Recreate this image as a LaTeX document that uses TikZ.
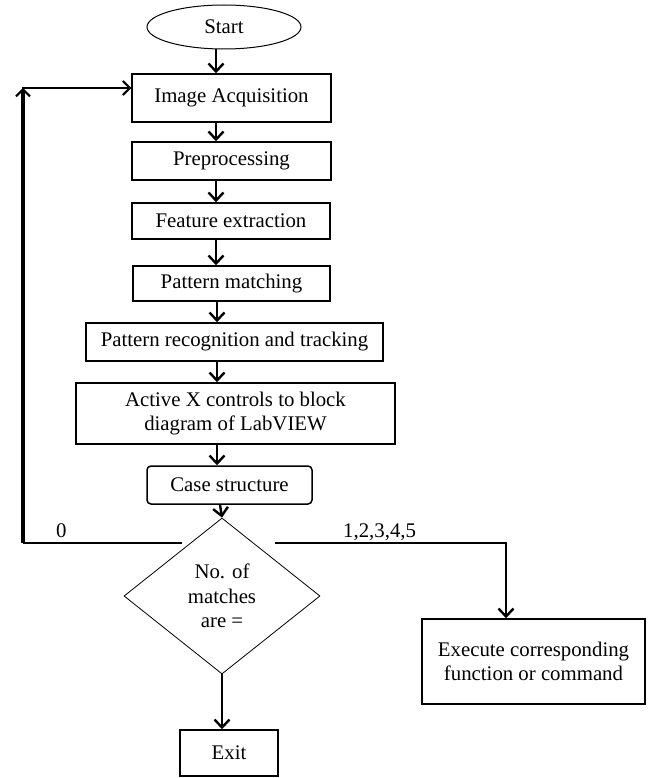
\documentclass[tikz,border=0pt]{standalone}
\usepackage{fontspec}
\setmainfont{Liberation Serif}
\usetikzlibrary{shapes.geometric,arrows.meta,calc}
\begin{document}
\begin{tikzpicture}[x=1pt,y=-1pt,
  font=\fontsize{20.8}{24}\selectfont,
  box/.style={draw,line width=1.5pt,rectangle,inner sep=0pt,align=center},
  flow/.style={line width=2.4pt,-{Straight Barb[length=8pt,width=15pt]}},
  thinline/.style={line width=1.3pt},
  lbl/.style={inner sep=0pt,anchor=base west}]
\useasboundingbox (0,0) rectangle (648,778);
% nodes
\node[draw,line width=1pt,ellipse,minimum width=154pt,minimum height=44pt,inner sep=0pt] (start) at (224,27) {Start};
\node[box,minimum width=199pt,minimum height=48pt] (acq) at (231.5,98) {Image Acquisition};
\node[box,minimum width=199pt,minimum height=38pt] (pre) at (231.5,161) {Preprocessing};
\node[box,minimum width=198pt,minimum height=36pt] (feat) at (231,221) {Feature extraction};
\node[box,minimum width=197pt,minimum height=35pt] (pm) at (231.5,283.5) {Pattern matching};
\node[box,minimum width=297pt,minimum height=38pt] (prt) at (234.5,342) {Pattern recognition and tracking};
\node[box,minimum width=319pt,minimum height=61pt] (actx) at (235.5,413.5) {Active X controls to block\\diagram of LabVIEW};
\node[box,rounded corners=4pt,minimum width=165pt,minimum height=38pt] (case) at (229.5,485) {Case structure};
\node[draw,line width=0.8pt,diamond,minimum width=196pt,minimum height=156pt,inner sep=0pt,align=center,font=\fontsize{20.8}{24.5}\selectfont] (dia) at (222,596) {No. of\\matches\\are =};
\node[box,minimum width=223pt,minimum height=85pt] (exec) at (533.5,661.5) {Execute corresponding\\function or command};
\node[box,minimum width=98pt,minimum height=46pt] (exit) at (229,753) {Exit};
% labels
\node[lbl] (l0) at (56,537) {0};
\node[lbl] (l1) at (343,537) {1,2,3,4,5};
% helper coordinates
\coordinate (ax) at (216,0);
\coordinate (lgap) at (182,543);
\coordinate (rgap) at (275,543);
\coordinate (c1) at (23,543);
\coordinate (c2) at (23,88);
\coordinate (c3) at (506,543);
% main flow
\draw[flow] (start.south -| ax) -- (acq.north -| ax);
\draw[flow] (acq.south -| ax) -- (pre.north -| ax);
\draw[flow] (pre.south -| ax) -- (feat.north -| ax);
\draw[flow] (feat.south -| ax) -- (pm.north -| ax);
\draw[flow] ($(pm.south -| ax)+(1,0)$) -- ($(prt.north -| ax)+(1,0)$);
\draw[flow] ($(prt.south -| ax)+(1,0)$) -- ($(actx.north -| ax)+(1,0)$);
\draw[flow] ($(actx.south -| ax)+(1,0)$) -- ($(case.north -| ax)+(1,0)$);
\draw[flow] ($(case.south -| ax)+(4,0)$) -- (dia.north);
\draw[flow] (dia.south) -- (exit.north -| dia.south);
% loop back
\draw[thinline] (lgap) -- (c1);
\draw[line width=3.8pt,-{Straight Barb[length=7pt,width=14pt,line width=2pt]}] (c1) -- (c2);
\draw[line width=2pt,-{Straight Barb[length=7pt,width=14pt]}] ($(c2)+(-1.5,0)$) -- (c2 -| acq.west);
% right branch
\draw[thinline] (rgap) -- ($(c3)+(1,0)$);
\draw[line width=2.4pt,-{Straight Barb[length=8pt,width=15pt]}] (c3) -- (exec.north -| c3);
\end{tikzpicture}
\end{document}
